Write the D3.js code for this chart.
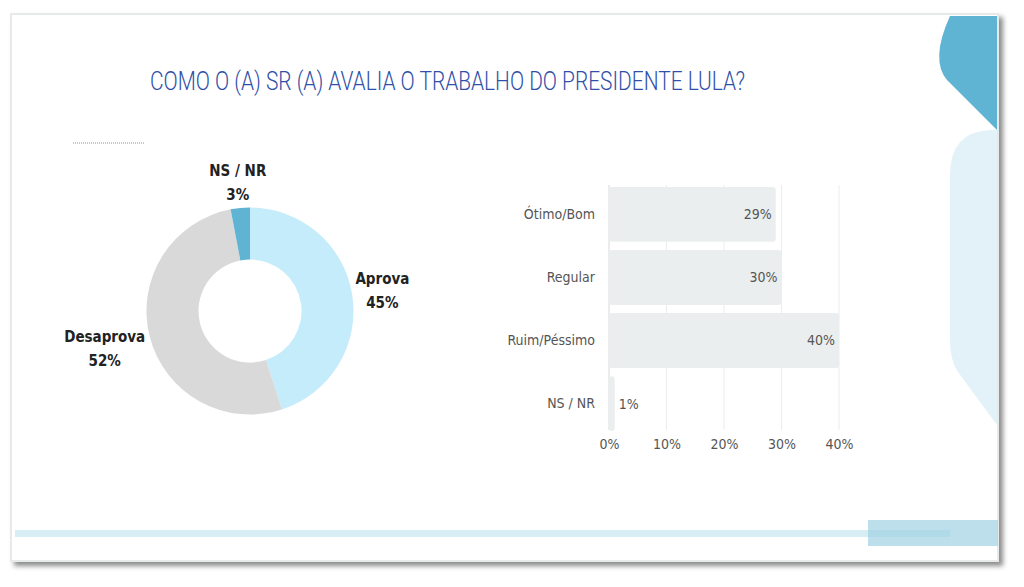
<!DOCTYPE html>
<html>
<head>
<meta charset="utf-8">
<script src="https://cdn.jsdelivr.net/npm/d3@7"></script>
<style>
  body { margin: 0; background: #fff; }
  svg { display: block; }
  .cond { font-family: "DejaVu Sans", sans-serif; font-stretch: condensed; }
  .ttl { font-family: "Roboto", sans-serif; font-weight: 300; }
</style>
</head>
<body>
<div id="chart"></div>
<script>
// donut data
const donutLabels = ["Aprova", "Desaprova", "NS / NR"];
const donutValues = [45, 52, 3];
const donutColors = ["#c5ecfa", "#d9d9d9", "#5fb3d3"];

// bar data
const barCategories = ["Ótimo/Bom", "Regular", "Ruim/Péssimo", "NS / NR"];
const barValues = [29, 30, 40, 1];
const xTicks = [0, 10, 20, 30, 40];

const title = "COMO O (A) SR (A) AVALIA O TRABALHO DO PRESIDENTE LULA?";

const W = 1024, H = 587;
const svg = d3.select("#chart").append("svg")
    .attr("width", W)
    .attr("height", H);

const defs = svg.append("defs");
const shadow = defs.append("filter").attr("id", "shadow")
    .attr("x", "-5%").attr("y", "-5%").attr("width", "110%").attr("height", "115%");
shadow.append("feDropShadow")
    .attr("dx", 4).attr("dy", 4).attr("stdDeviation", 2.5)
    .attr("flood-color", "#000").attr("flood-opacity", 0.45);

// slide background
svg.append("rect")
    .attr("x", 11).attr("y", 14).attr("width", 987).attr("height", 547)
    .attr("fill", "#fff")
    .attr("stroke", "#e6eaea").attr("stroke-width", 2)
    .attr("filter", "url(#shadow)");

// decorations on the right
svg.append("path")
    .attr("d", "M950,16 L997,16 L997,130 L947,80 Q930,60 950,16 Z")
    .attr("fill", "#5fb3d3");
svg.append("path")
    .attr("d", "M997,130 L997,425 L958,372 Q950,360 950,340 L950,175 Q950,132 990,130 Z")
    .attr("fill", "#e3f2f8");

// bottom decoration
svg.append("rect")
    .attr("x", 15).attr("y", 530).attr("width", 935).attr("height", 7)
    .attr("fill", "#d8eef5");
svg.append("rect")
    .attr("x", 868).attr("y", 520).attr("width", 130).attr("height", 26)
    .attr("fill", "#9fd2e3").attr("opacity", 0.7);

// title
svg.append("text")
    .attr("class", "ttl")
    .attr("x", 150).attr("y", 90)
    .attr("textLength", 595)
    .attr("lengthAdjust", "spacingAndGlyphs")
    .attr("font-size", 26)
    .attr("fill", "#2f4fa8")
    .text(title);

// small dotted line
svg.append("line")
    .attr("x1", 73).attr("x2", 145).attr("y1", 143).attr("y2", 143)
    .attr("stroke", "#6f8fd0").attr("stroke-width", 1)
    .attr("stroke-dasharray", "1,1");

// ---- donut ----
const cx = 250, cy = 311;
const outerR = 103.5, innerR = 51.5;
const labelR = [134, 150, 130];

const pie = d3.pie().sort(null).value(d => d);
const arcs = pie(donutValues);
const arc = d3.arc().innerRadius(innerR).outerRadius(outerR);

const donut = svg.append("g").attr("transform", `translate(${cx},${cy})`);
donut.selectAll("path")
    .data(arcs)
    .join("path")
    .attr("d", arc)
    .attr("fill", (d, i) => donutColors[i]);

const lab = donut.selectAll("g.lab")
    .data(arcs)
    .join("g")
    .attr("class", "lab")
    .attr("transform", (d, i) => {
        let a = d3.arc().innerRadius(labelR[i]).outerRadius(labelR[i]);
        let c = a.centroid(d);
        return `translate(${c[0]},${c[1]})`;
    });
lab.append("text")
    .attr("class", "cond")
    .attr("text-anchor", "middle")
    .attr("y", -6)
    .attr("font-size", 15)
    .attr("font-weight", "bold")
    .attr("fill", "#222")
    .text((d, i) => donutLabels[i]);
lab.append("text")
    .attr("class", "cond")
    .attr("text-anchor", "middle")
    .attr("y", 18)
    .attr("font-size", 15)
    .attr("font-weight", "bold")
    .attr("fill", "#222")
    .text((d, i) => donutValues[i] + "%");

// ---- bar chart ----
const x = d3.scaleLinear().domain([0, 40]).range([609, 839]);
const y = d3.scaleBand().domain(barCategories).range([185, 433]).paddingInner(0.13).paddingOuter(0.03);

const bars = svg.append("g");

// gridlines
bars.selectAll("line.grid")
    .data(xTicks)
    .join("line")
    .attr("class", "grid")
    .attr("x1", d => x(d)).attr("x2", d => x(d))
    .attr("y1", 185).attr("y2", 430)
    .attr("stroke", d => d === 0 ? "#d8d8d8" : "#ececec")
    .attr("stroke-width", 1);

bars.selectAll("rect.bar")
    .data(barValues)
    .join("rect")
    .attr("class", "bar")
    .attr("x", x(0))
    .attr("y", (d, i) => y(barCategories[i]))
    .attr("width", d => x(d) - x(0))
    .attr("height", y.bandwidth())
    .attr("rx", 3)
    .attr("fill", "#ebeeef");

bars.selectAll("text.val")
    .data(barValues)
    .join("text")
    .attr("class", "val cond")
    .attr("x", d => d >= 5 ? x(d) - 4 : x(d) + 4)
    .attr("y", (d, i) => y(barCategories[i]) + y.bandwidth() / 2)
    .attr("dy", "0.35em")
    .attr("text-anchor", d => d >= 5 ? "end" : "start")
    .attr("font-size", 14)
    .attr("fill", "#555")
    .text(d => d + "%");

// y axis labels
const yAxis = d3.axisLeft(y).tickSize(0).tickPadding(14);
svg.append("g")
    .attr("transform", `translate(${x(0)},0)`)
    .call(yAxis)
    .call(g => g.select(".domain").remove())
    .selectAll("text")
    .attr("class", "cond")
    .attr("font-size", 14)
    .attr("fill", "#555");

// x axis labels
const xAxis = d3.axisBottom(x).tickValues(xTicks).tickFormat(d => d + "%").tickSize(0).tickPadding(8);
svg.append("g")
    .attr("transform", `translate(0,431)`)
    .call(xAxis)
    .call(g => g.select(".domain").remove())
    .selectAll("text")
    .attr("class", "cond")
    .attr("font-size", 14)
    .attr("fill", "#555");
</script>
</body>
</html>
